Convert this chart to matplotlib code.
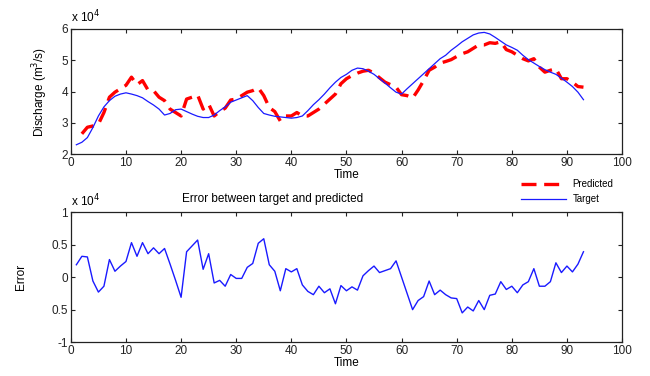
import numpy as np
import matplotlib
matplotlib.use("Agg")
import matplotlib.pyplot as plt
from matplotlib.lines import Line2D

plt.rcParams['font.family'] = ['Liberation Sans', 'DejaVu Sans']

# Discharge in units of 1e4 m^3/s, sampled at integer time steps
time_target = list(range(1, 94))
target = [2.30, 2.38, 2.53, 2.85, 3.22, 3.51, 3.71, 3.85, 3.92, 3.96,
          3.92, 3.87, 3.80, 3.68, 3.57, 3.44, 3.25, 3.30, 3.42, 3.44,
          3.36, 3.28, 3.21, 3.17, 3.17, 3.25, 3.39, 3.51, 3.66, 3.73,
          3.80, 3.87, 3.71, 3.49, 3.30, 3.25, 3.21, 3.19, 3.17, 3.15,
          3.17, 3.22, 3.39, 3.58, 3.74, 3.92, 4.12, 4.30, 4.45, 4.55,
          4.68, 4.75, 4.73, 4.65, 4.55, 4.41, 4.27, 4.12, 3.98, 3.92,
          4.09, 4.25, 4.41, 4.57, 4.73, 4.89, 5.05, 5.16, 5.32, 5.45,
          5.59, 5.70, 5.81, 5.87, 5.89, 5.84, 5.73, 5.61, 5.49, 5.41,
          5.32, 5.16, 5.02, 4.91, 4.80, 4.70, 4.62, 4.55, 4.43, 4.30,
          4.16, 3.98, 3.74]

time_pred = list(range(2, 94))
predicted = [2.65, 2.86, 2.90, 2.96, 3.33, 3.82, 3.98, 4.09, 4.20,
             4.46, 4.22, 4.35, 4.05, 4.03, 3.82, 3.71, 3.44, 3.33, 3.22,
             3.76, 3.82, 3.89, 3.44, 3.60, 3.22, 3.36, 3.47, 3.73, 3.76,
             3.87, 3.98, 4.03, 4.12, 3.87, 3.49, 3.36, 3.06, 3.22, 3.22,
             3.33, 3.22, 3.22, 3.33, 3.44, 3.60, 3.76, 3.92, 4.25, 4.41,
             4.51, 4.59, 4.65, 4.68, 4.59, 4.44, 4.30, 4.22, 4.14, 3.90,
             3.87, 3.79, 4.05, 4.35, 4.68, 4.78, 4.91, 4.96, 5.02, 5.12,
             5.21, 5.27, 5.38, 5.49, 5.49, 5.56, 5.54, 5.59, 5.34, 5.27,
             5.16, 5.05, 4.98, 5.05, 4.78, 4.62, 4.68, 4.73, 4.41, 4.41,
             4.30, 4.16, 4.14]

# Prediction error in units of 1e4 m^3/s
time_err = list(range(1, 94))
error = [0.19, 0.32, 0.31, -0.06, -0.23, -0.14, 0.27, 0.09, 0.17, 0.24,
         0.53, 0.32, 0.53, 0.36, 0.45, 0.36, 0.44, 0.20, -0.05, -0.31,
         0.39, 0.48, 0.57, 0.12, 0.36, -0.09, -0.05, -0.14, 0.04, -0.02,
         -0.02, 0.15, 0.21, 0.52, 0.59, 0.19, 0.09, -0.21, 0.13, 0.08,
         0.13, -0.12, -0.22, -0.27, -0.14, -0.24, -0.18, -0.41, -0.13, -0.21,
         -0.15, -0.20, 0.02, 0.10, 0.17, 0.07, 0.10, 0.13, 0.25, 0.00,
         -0.25, -0.50, -0.36, -0.30, -0.06, -0.27, -0.20, -0.27, -0.32, -0.33,
         -0.55, -0.46, -0.52, -0.36, -0.50, -0.28, -0.26, -0.07, -0.19, -0.14,
         -0.24, -0.12, -0.07, 0.13, -0.14, -0.14, -0.07, 0.22, 0.07, 0.17,
         0.08, 0.20, 0.39]

x_ticks = [0, 10, 20, 30, 40, 50, 60, 70, 80, 90, 100]
top_yticks = [2, 3, 4, 5, 6]
err_yticks = [-1, -0.5, 0, 0.5, 1]
err_yticklabels = ["-1", "0.5", "0", "0.5", "1"]

RED = "#ff0000"
BLUE = "#1a1aff"
FS = 8.5
DASH = (0, (4.5, 2.3))

fig = plt.figure(figsize=(6.5, 3.76), dpi=100)
ax1 = fig.add_axes([0.109, 0.590, 0.848, 0.333])
ax2 = fig.add_axes([0.109, 0.090, 0.848, 0.346])

for ax in (ax1, ax2):
    ax.tick_params(direction='in', top=True, right=True, labelsize=FS,
                   length=3, width=0.8, colors='#222222', pad=2)
    for s in ax.spines.values():
        s.set_linewidth(0.9)
        s.set_color('#222222')
    ax.set_xlim(0, 100)
    ax.set_xticks(x_ticks)

ax1.plot(time_pred, predicted, color=RED, lw=2.4, ls=DASH, label='Predicted')
ax1.plot(time_target, target, color=BLUE, lw=0.9, label='Target')
ax1.set_ylim(2, 6)
ax1.set_yticks(top_yticks)
ax1.set_ylabel('Discharge (m$^3$/s)', fontsize=FS, labelpad=8)
ax1.set_xlabel('Time', fontsize=FS, labelpad=0)
ax1.text(0.0, 1.03, r'x 10$^4$', transform=ax1.transAxes, fontsize=FS,
         ha='left', va='bottom')

ax2.plot(time_err, error, color=BLUE, lw=1.0)
ax2.set_ylim(-1, 1)
ax2.set_yticks(err_yticks)
ax2.set_yticklabels(err_yticklabels)
ax2.set_ylabel('Error', fontsize=FS, labelpad=18)
ax2.set_xlabel('Time', fontsize=FS, labelpad=0)
ax2.text(0.0, 1.02, r'x 10$^4$', transform=ax2.transAxes, fontsize=FS,
         ha='left', va='bottom')
fig.text(0.42, 0.472, 'Error between target and predicted', fontsize=FS,
         ha='center', va='center')

handles = [Line2D([], [], color=RED, lw=2.4, ls=DASH),
           Line2D([], [], color=BLUE, lw=0.9)]
fig.legend(handles, ['Predicted', 'Target'], loc='center left',
           bbox_to_anchor=(0.788, 0.49), frameon=False, fontsize=7,
           handlelength=4.6, labelspacing=0.5, handletextpad=0.7)

fig.savefig('out.png', dpi=100)
